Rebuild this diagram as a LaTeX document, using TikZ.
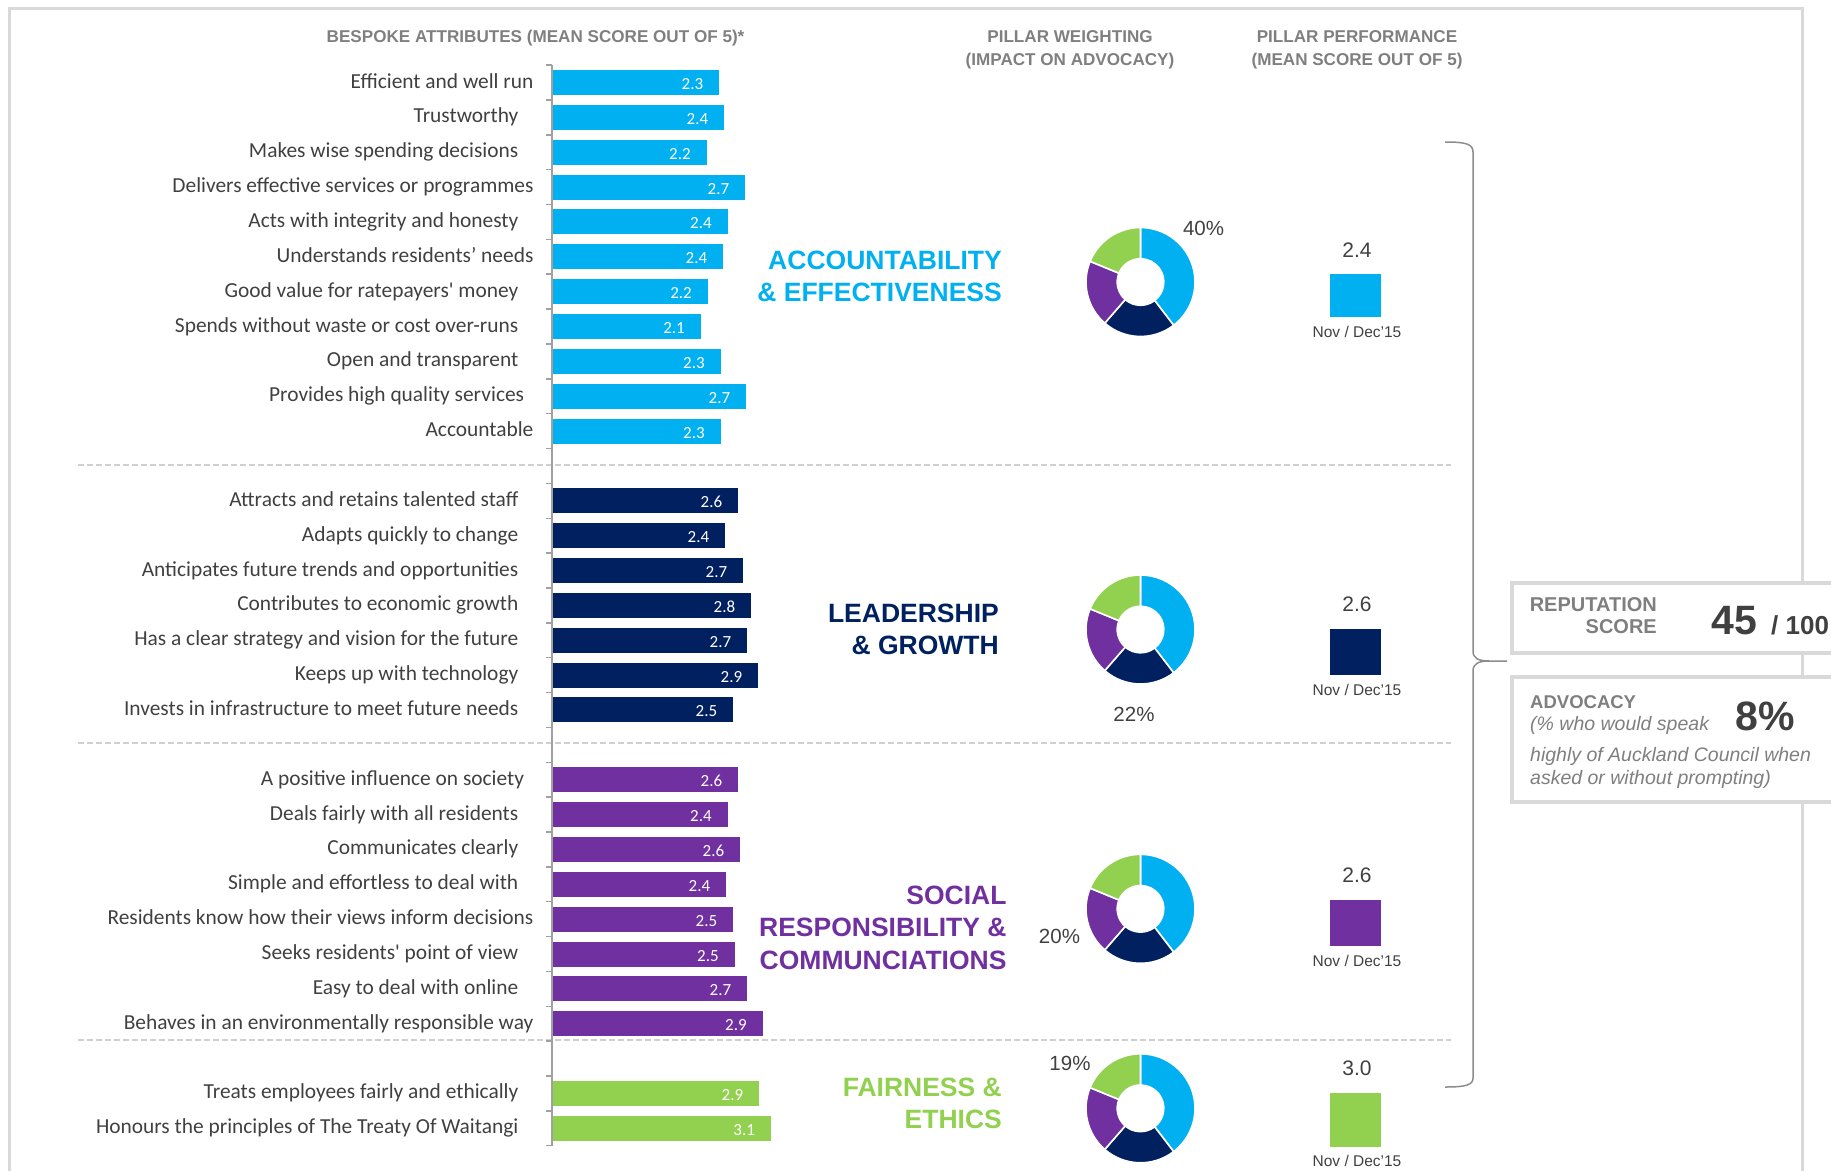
\documentclass[tikz,border=0pt]{standalone}
\usepackage{fontspec}
\setmainfont{Carlito}
\newfontfamily\arialf{Liberation Sans}
\usetikzlibrary{calc}
\definecolor{cy}{HTML}{00B0F0}
\definecolor{nv}{HTML}{002060}
\definecolor{pu}{HTML}{7030A0}
\definecolor{gr}{HTML}{92D050}
\definecolor{txt}{HTML}{404040}
\definecolor{hdr}{HTML}{7F7F7F}
\definecolor{frm}{HTML}{D9D9D9}
\definecolor{dsh}{HTML}{D0D0D0}
\definecolor{brc}{HTML}{8C8C8C}
\definecolor{axc}{HTML}{A0A0A0}
\newcommand\donutchart[2]{%
\begin{scope}[shift={(#1,#2)},x=1pt,y=1pt]
\filldraw[fill=cy,draw=white,line width=1.6pt] (90:54.5) arc[start angle=90,end angle=-52.57,radius=54.5] -- (-52.57:23.3) arc[start angle=-52.57,end angle=90,radius=23.3] -- cycle;
\filldraw[fill=nv,draw=white,line width=1.6pt] (-52.57:54.5) arc[start angle=-52.57,end angle=-130.99,radius=54.5] -- (-130.99:23.3) arc[start angle=-130.99,end angle=-52.57,radius=23.3] -- cycle;
\filldraw[fill=pu,draw=white,line width=1.6pt] (-130.99:54.5) arc[start angle=-130.99,end angle=-202.28,radius=54.5] -- (-202.28:23.3) arc[start angle=-202.28,end angle=-130.99,radius=23.3] -- cycle;
\filldraw[fill=gr,draw=white,line width=1.6pt] (-202.28:54.5) arc[start angle=-202.28,end angle=-270,radius=54.5] -- (-270:23.3) arc[start angle=-270,end angle=-202.28,radius=23.3] -- cycle;
\end{scope}}
\begin{document}
\begin{tikzpicture}[x=1pt,y=-1pt,
  lbl/.style={anchor=base east,inner sep=0,text=txt,font=\fontsize{21.4}{25}\selectfont},
  barbox/.style={anchor=west,inner sep=0,minimum height=25,draw=none},
  num/.style={anchor=base east,inner sep=0,text=white,font=\fontsize{17}{20}\selectfont},
  hdrs/.style={inner sep=0,text=hdr,font=\arialf\bfseries\fontsize{17.1}{22.6}\selectfont},
  ttl/.style={anchor=north east,align=right,inner sep=0,font=\arialf\bfseries\fontsize{26.5}{32.5}\selectfont},
  pct/.style={inner sep=0,text=txt,font=\arialf\fontsize{20.5}{24}\selectfont},
  sq/.style={anchor=south,inner sep=0,minimum width=51,draw=none},
  valt/.style={inner sep=0,text=txt,font=\arialf\fontsize{21}{24}\selectfont},
  datet/.style={inner sep=0,text=txt,font=\arialf\fontsize{15.5}{18}\selectfont},
  boxst/.style={draw=frm,line width=4pt,fill=white,inner sep=0,anchor=north west,minimum width=420},
  dashl/.style={dsh,line width=1.5pt,dash pattern=on 6pt off 3pt},
  advit/.style={inner sep=0,anchor=base west,text=hdr,font=\arialf\itshape\fontsize{19.5}{22}\selectfont},
]
\useasboundingbox (0,0) rectangle (1831,1170);
\clip (0,0) rectangle (1831,1170);
% frame
\draw[frm,line width=3pt] (9,1180) -- (9,8) -- (1802,8) -- (1802,1180);
% headers
\node[hdrs,anchor=base west] (h1) at (326.5,42.7) {BESPOKE ATTRIBUTES (MEAN SCORE OUT OF 5)*};
\node[hdrs,align=center,anchor=north] (h2) at (1070,30.6) {PILLAR WEIGHTING\\(IMPACT ON ADVOCACY)};
\node[hdrs,align=center,anchor=north] (h3) at (1357,30.6) {PILLAR PERFORMANCE\\(MEAN SCORE OUT OF 5)};
% dashed separators
\draw[dashl] (78,465) -- (1451,465);
\draw[dashl] (78,743) -- (1451,743);
\draw[dashl] (78,1040) -- (1451,1040);
% axis and ticks
\draw[axc,line width=1.8pt] (552,65) -- (552,1146);
\foreach \j in {0,...,31} \draw[axc,line width=1.5pt] (546,{65.07+34.86*\j}) -- (552,{65.07+34.86*\j});
% bars
\foreach \rk/\re/\rv/\rc/\rx/\rt in {
0/719/2.3/cy/533.6/Efficient and well run,
1/724/2.4/cy/518.5/Trustworthy,
2/706.5/2.2/cy/518.5/Makes wise spending decisions,
3/745/2.7/cy/533.6/Delivers effective services or programmes,
4/727.5/2.4/cy/518.5/Acts with integrity and honesty,
5/723/2.4/cy/533.6/Understands residents’ needs,
6/707.6/2.2/cy/518.5/Good value for ratepayers\textquotesingle{} money,
7/700.6/2.1/cy/518.5/Spends without waste or cost over-runs,
8/720.5/2.3/cy/518.5/Open and transparent,
9/746/2.7/cy/524.3/Provides high quality services,
10/720.5/2.3/cy/533.6/Accountable,
12/738/2.6/nv/518.5/Attracts and retains talented staff,
13/725/2.4/nv/518.5/Adapts quickly to change,
14/743/2.7/nv/518.5/Anticipates future trends and opportunities,
15/751/2.8/nv/518.5/Contributes to economic growth,
16/747/2.7/nv/518.5/Has a clear strategy and vision for the future,
17/758/2.9/nv/518.5/Keeps up with technology,
18/733/2.5/nv/518.5/Invests in infrastructure to meet future needs,
20/738/2.6/pu/524.3/A positive influence on society,
21/727.5/2.4/pu/518.5/Deals fairly with all residents,
22/740/2.6/pu/518.5/Communicates clearly,
23/726/2.4/pu/518.5/Simple and effortless to deal with,
24/733/2.5/pu/533.6/Residents know how their views inform decisions,
25/734.5/2.5/pu/518.5/Seeks residents\textquotesingle{} point of view,
26/747/2.7/pu/518.5/Easy to deal with online,
27/762.5/2.9/pu/533.6/Behaves in an environmentally responsible way,
29/759/2.9/gr/518.5/Treats employees fairly and ethically,
30/770.7/3.1/gr/518.5/Honours the principles of The Treaty Of Waitangi}{
  \pgfmathsetmacro\yy{82.5+34.86*\rk}
  \pgfmathsetmacro\ww{\re-553}
  \node[lbl] (l\rk) at (\rx,{\yy+5.5}) {\rt};
  \node[barbox,fill=\rc,minimum width=\ww] (b\rk) at (553,\yy) {};
  \node[num] (n\rk) at ($(b\rk.east)+(-16,7)$) {\rv};
}
% pillar titles
\node[ttl,text=cy] (t1) at (1002,250.5) {ACCOUNTABILITY\\\& EFFECTIVENESS};
\node[ttl,text=nv] (t2) at (999,603.6) {LEADERSHIP\\\& GROWTH};
\node[ttl,text=pu] (t3) at (1006.7,885.5) {SOCIAL\\RESPONSIBILITY \&\\COMMUNCIATIONS};
\node[ttl,text=gr] (t4) at (1002,1077.6) {FAIRNESS \&\\ETHICS};
% donuts
\foreach \cyy in {282,629.5,908.8,1108.3} {\donutchart{1140.5}{\cyy}}
\node[pct] (p1) at (1203.5,228) {40\%};
\node[pct] (p2) at (1134,714) {22\%};
\node[pct] (p3) at (1059.5,936) {20\%};
\node[pct] (p4) at (1070,1063) {19\%};
% performance
\foreach \i/\val/\col/\bot in {1/2.4/cy/317.6,2/2.6/nv/675.5,3/2.6/pu/946.5,4/3.0/gr/1146.7}{
  \pgfmathsetmacro\hh{18*\val}
  \node[sq,fill=\col,minimum height=\hh] (s\i) at (1355.5,\bot) {};
  \node[valt] (v\i) at ($(s\i.north)+(1.5,-24)$) {\val};
  \node[datet] (d\i) at ($(s\i.south)+(1.5,14)$) {Nov / Dec’15};
}
% brace
\draw[brc,line width=1.5pt] (1445,142) .. controls (1466,142) and (1473,144) .. (1473,152) -- (1473,651) .. controls (1473,658) and (1478,661) .. (1489,661) -- (1507,661);
\draw[brc,line width=1.5pt] (1489,661) .. controls (1478,661) and (1473,664) .. (1473,671) -- (1473,1078) .. controls (1473,1085) and (1466,1087) .. (1445,1087);
% score boxes
\node[boxst,minimum height=70] (repbox) at (1510,581) {};
\node[boxst,minimum height=125] (advbox) at (1510,675) {};
\node[inner sep=0,anchor=north east,align=right,text=hdr,font=\arialf\bfseries\fontsize{20}{22.3}\selectfont] (rs) at (1657,597.4) {REPUTATION\\SCORE};
\node[inner sep=0,anchor=base west,text=txt,font=\arialf\bfseries\fontsize{41}{44}\selectfont] (r45) at (1711.7,634) {45};
\node[inner sep=0,anchor=base west,text=txt,font=\arialf\bfseries\fontsize{26}{28}\selectfont] (r100) at (1771,634) {/ 100};
\node[inner sep=0,anchor=base west,text=hdr,font=\arialf\bfseries\fontsize{18.5}{21}\selectfont] (adv) at (1530,708.5) {ADVOCACY};
\node[advit] (adv1) at (1530,730.5) {(\% who would speak};
\node[inner sep=0,anchor=base west,text=txt,font=\arialf\bfseries\fontsize{41}{44}\selectfont] (adv8) at (1735,730.5) {8\%};
\node[advit] (adv2) at (1530,761.5) {highly of Auckland Council when};
\node[advit] (adv3) at (1530,784) {asked or without prompting)};
\end{tikzpicture}
\end{document}
